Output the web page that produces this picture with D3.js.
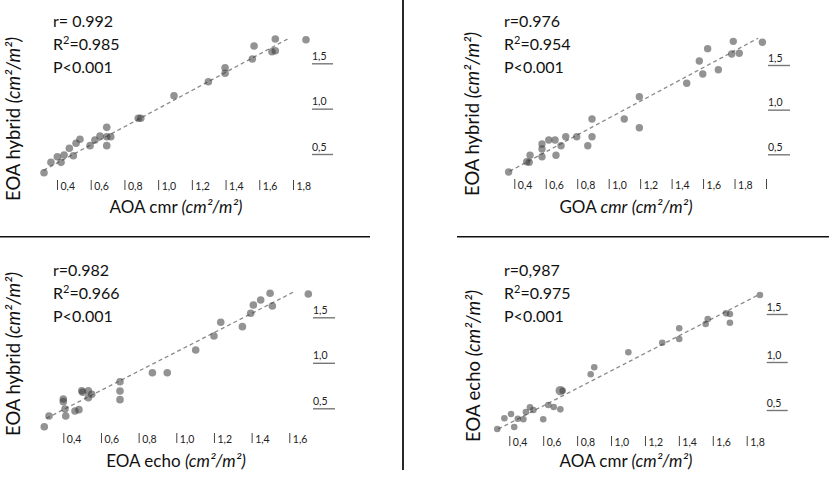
<!DOCTYPE html>
<html>
<head>
<meta charset="utf-8">
<script src="https://cdn.jsdelivr.net/npm/d3@7"></script>
<style>
  body { margin: 0; background: #fff; }
  svg { display: block; font-family: Lato, "Open Sans", sans-serif; }
</style>
</head>
<body>
<svg id="chart" width="829" height="477"></svg>
<script>
// ---- data ----
// panel A: AOA cmr vs EOA hybrid
const aX = [0.323,0.364,0.402,0.424,0.442,0.473,0.497,0.513,0.536,0.596,0.625,0.655,0.695,0.695,0.695,0.719,0.882,0.897,1.094,1.298,1.397,1.397,1.559,1.569,1.675,1.695,1.695,1.877];
const aY = [0.294,0.408,0.470,0.408,0.489,0.563,0.481,0.618,0.662,0.592,0.654,0.698,0.794,0.691,0.592,0.691,0.894,0.894,1.143,1.297,1.451,1.390,1.547,1.691,1.628,1.768,1.639,1.760];
const aFit = [[0.32, 0.32], [1.78, 1.78]];
const aStats = ["r= 0.992", "0.985"];

// panel B: GOA cmr vs EOA hybrid
const bX = [0.364,0.479,0.495,0.500,0.576,0.576,0.576,0.619,0.659,0.665,0.697,0.727,0.797,0.867,0.894,0.894,1.099,1.195,1.195,1.496,1.576,1.598,1.629,1.697,1.782,1.792,1.830,1.977];
const bY = [0.302,0.417,0.410,0.489,0.473,0.559,0.615,0.660,0.660,0.489,0.596,0.697,0.697,0.596,0.895,0.697,0.895,1.145,0.798,1.295,1.545,1.399,1.683,1.447,1.623,1.765,1.631,1.754];
const bFit = [[0.37, 0.31], [1.95, 1.80]];
const bStats = ["r=0.976", "0.954"];

// panel C: EOA echo vs EOA hybrid
const cX = [0.299,0.324,0.400,0.400,0.409,0.413,0.462,0.483,0.498,0.503,0.533,0.533,0.551,0.701,0.701,0.701,0.873,0.952,1.103,1.200,1.236,1.351,1.395,1.409,1.448,1.498,1.510,1.701];
const cY = [0.298,0.415,0.602,0.573,0.492,0.415,0.470,0.485,0.693,0.676,0.693,0.616,0.654,0.792,0.690,0.595,0.891,0.891,1.141,1.295,1.445,1.397,1.544,1.635,1.690,1.764,1.624,1.756];
const cFit = [[0.31, 0.39], [1.62, 1.775]];
const cStats = ["r=0.982", "0.966"];

// panel D: AOA cmr vs EOA echo
const dX = [0.329,0.371,0.410,0.429,0.450,0.483,0.498,0.522,0.542,0.600,0.630,0.662,0.701,0.701,0.715,0.880,0.901,1.102,1.302,1.402,1.402,1.558,1.570,1.678,1.701,1.701,1.878];
const dY = [0.302,0.414,0.458,0.323,0.409,0.403,0.479,0.528,0.500,0.403,0.552,0.531,0.507,0.701,0.701,0.872,0.945,1.101,1.201,1.240,1.351,1.396,1.448,1.507,1.500,1.409,1.698];
const dBig = [13];
const dFit = [[0.335, 0.302], [1.868, 1.698]];
const dStats = ["r=0,987", "0.975"];

const xTicksA = [0.4,0.6,0.8,1.0,1.2,1.4,1.6,1.8];
const xTicksB = [0.4,0.6,0.8,1.0,1.2,1.4,1.6,1.8,2.0];
const xTicksC = [0.4,0.6,0.8,1.0,1.2,1.4,1.6];
const yTicks = [0.5,1.0,1.5];

// ---- layout per panel ----
const panels = [
  { xs: aX, ys: aY, fit: aFit, stats: aStats, xt: xTicksA, big: [],
    xr: [57, 293], xd: [0.4, 1.8], yr: [154, 63.3], yd: [0.5, 1.5],
    xAxisY: 190, yAxisX: 312, tickW: 21, statX: 53, statY: 27, r: 3.8,
    xLab: ["AOA cmr ", "(cm²/m²)"], xLabX: 176, xLabY: 213,
    yLab: ["EOA hybrid ", "(cm²/m²)"], yLabX: 19.5, yLabY: 119, yLabSize: 18.5 },
  { xs: bX, ys: bY, fit: bFit, stats: bStats, xt: xTicksB, big: [],
    xr: [514.3, 766], xd: [0.4, 2.0], yr: [154.3, 65], yd: [0.5, 1.5],
    xAxisY: 189, yAxisX: 768, tickW: 22, statX: 504, statY: 27, r: 3.7,
    xLab: ["GOA ", "cmr", " ", "(cm²/m²)"], xLabX: 626, xLabY: 213,
    yLab: ["EOA hybrid ", "(cm²/m²)"], yLabX: 479, yLabY: 114, yLabSize: 18.5 },
  { xs: cX, ys: cY, fit: cFit, stats: cStats, xt: xTicksC, big: [],
    xr: [63.3, 289.3], xd: [0.4, 1.6], yr: [408.3, 317.3], yd: [0.5, 1.5],
    xAxisY: 443, yAxisX: 313, tickW: 22, statX: 53, statY: 276, r: 3.8,
    xLab: ["EOA echo ", "(cm²/m²)"], xLabX: 176, xLabY: 467,
    yLab: ["EOA hybrid ", "(cm²/m²)"], yLabX: 20, yLabY: 354, yLabSize: 18.5 },
  { xs: dX, ys: dY, fit: dFit, stats: dStats, xt: xTicksA, big: dBig,
    xr: [509.3, 746.7], xd: [0.4, 1.8], yr: [410, 314], yd: [0.5, 1.5],
    xAxisY: 446, yAxisX: 766.7, tickW: 21, statX: 504, statY: 276, r: 3.3,
    xLab: ["AOA cmr ", "(cm²/m²)"], xLabX: 626, xLabY: 467,
    yLab: ["EOA echo ", "(cm²/m²)"], yLabX: 479.5, yLabY: 366, yLabSize: 18.5 }
];

const svg = d3.select("#chart");
const fmt = d => d3.format(".1f")(d).replace(".", ",");

// separator lines
svg.append("line").attr("x1", 403).attr("x2", 403).attr("y1", 0).attr("y2", 470)
  .attr("stroke", "#111").attr("stroke-width", 1.8);
svg.append("line").attr("x1", 0).attr("x2", 370).attr("y1", 236.7).attr("y2", 236.7)
  .attr("stroke", "#111").attr("stroke-width", 1.6);
svg.append("line").attr("x1", 457).attr("x2", 829).attr("y1", 236.7).attr("y2", 236.7)
  .attr("stroke", "#111").attr("stroke-width", 1.6);

panels.forEach(p => {
  const x = d3.scaleLinear().domain(p.xd).range(p.xr);
  const y = d3.scaleLinear().domain(p.yd).range(p.yr);
  const g = svg.append("g");

  // x axis: short bar left of each label
  const xa = g.append("g").attr("transform", `translate(0,${p.xAxisY})`)
    .call(d3.axisBottom(x).tickValues(p.xt).tickSize(-10)
      .tickFormat(d => d >= 1.95 ? "" : fmt(d)));
  xa.select(".domain").remove();
  xa.selectAll(".tick line").attr("stroke", "#444").attr("stroke-width", 1);
  xa.selectAll(".tick text").attr("x", 3).attr("y", 0).attr("dy", 0)
    .attr("text-anchor", "start").attr("fill", "#222")
    .style("font-family", "Lato, sans-serif").style("font-size", "10.5px");

  // y axis on the right: label above a short underline
  const ya = g.append("g").attr("transform", `translate(${p.yAxisX},0)`)
    .call(d3.axisRight(y).tickValues(yTicks).tickSize(p.tickW).tickFormat(fmt));
  ya.select(".domain").remove();
  ya.selectAll(".tick line").attr("stroke", "#777").attr("stroke-width", 1.4);
  ya.selectAll(".tick text").attr("x", 0).attr("y", -4).attr("dy", 0)
    .attr("text-anchor", "start").attr("fill", "#222")
    .style("font-family", "Lato, sans-serif").style("font-size", "10.5px");

  // regression line
  g.append("line")
    .attr("x1", x(p.fit[0][0])).attr("y1", y(p.fit[0][1]))
    .attr("x2", x(p.fit[1][0])).attr("y2", y(p.fit[1][1]))
    .attr("stroke", "#8a8a8a").attr("stroke-width", 1.3).attr("stroke-dasharray", "4,3");

  // points
  g.selectAll("circle").data(p.xs.map((v, i) => [v, p.ys[i], i])).join("circle")
    .attr("cx", d => x(d[0])).attr("cy", d => y(d[1]))
    .attr("r", d => p.big.includes(d[2]) ? 4.8 : p.r)
    .attr("fill", "#3a3a3a").attr("fill-opacity", 0.55);

  // stats
  const st = g.append("g").attr("fill", "#111").style("font-size", "16px");
  st.append("text").attr("x", p.statX).attr("y", p.statY).text(p.stats[0]);
  const r2 = st.append("text").attr("x", p.statX).attr("y", p.statY + 23);
  r2.append("tspan").text("R");
  r2.append("tspan").attr("dy", -6).style("font-size", "11px").text("2");
  r2.append("tspan").attr("dy", 6).text("=" + p.stats[1]);
  st.append("text").attr("x", p.statX).attr("y", p.statY + 46).text("P<0.001");

  // x label
  const xl = g.append("text").attr("x", p.xLabX).attr("y", p.xLabY)
    .attr("text-anchor", "middle").attr("fill", "#111").style("font-size", "17px");
  p.xLab.forEach((s, i) => xl.append("tspan").text(s)
    .style("font-style", i % 2 === 1 ? "italic" : "normal"));

  // y label
  const yl = g.append("text")
    .attr("transform", `translate(${p.yLabX},${p.yLabY}) rotate(-90)`)
    .attr("text-anchor", "middle").attr("fill", "#111").style("font-size", p.yLabSize + "px");
  p.yLab.forEach((s, i) => yl.append("tspan").text(s)
    .style("font-style", i % 2 === 1 ? "italic" : "normal"));
});
</script>
</body>
</html>
